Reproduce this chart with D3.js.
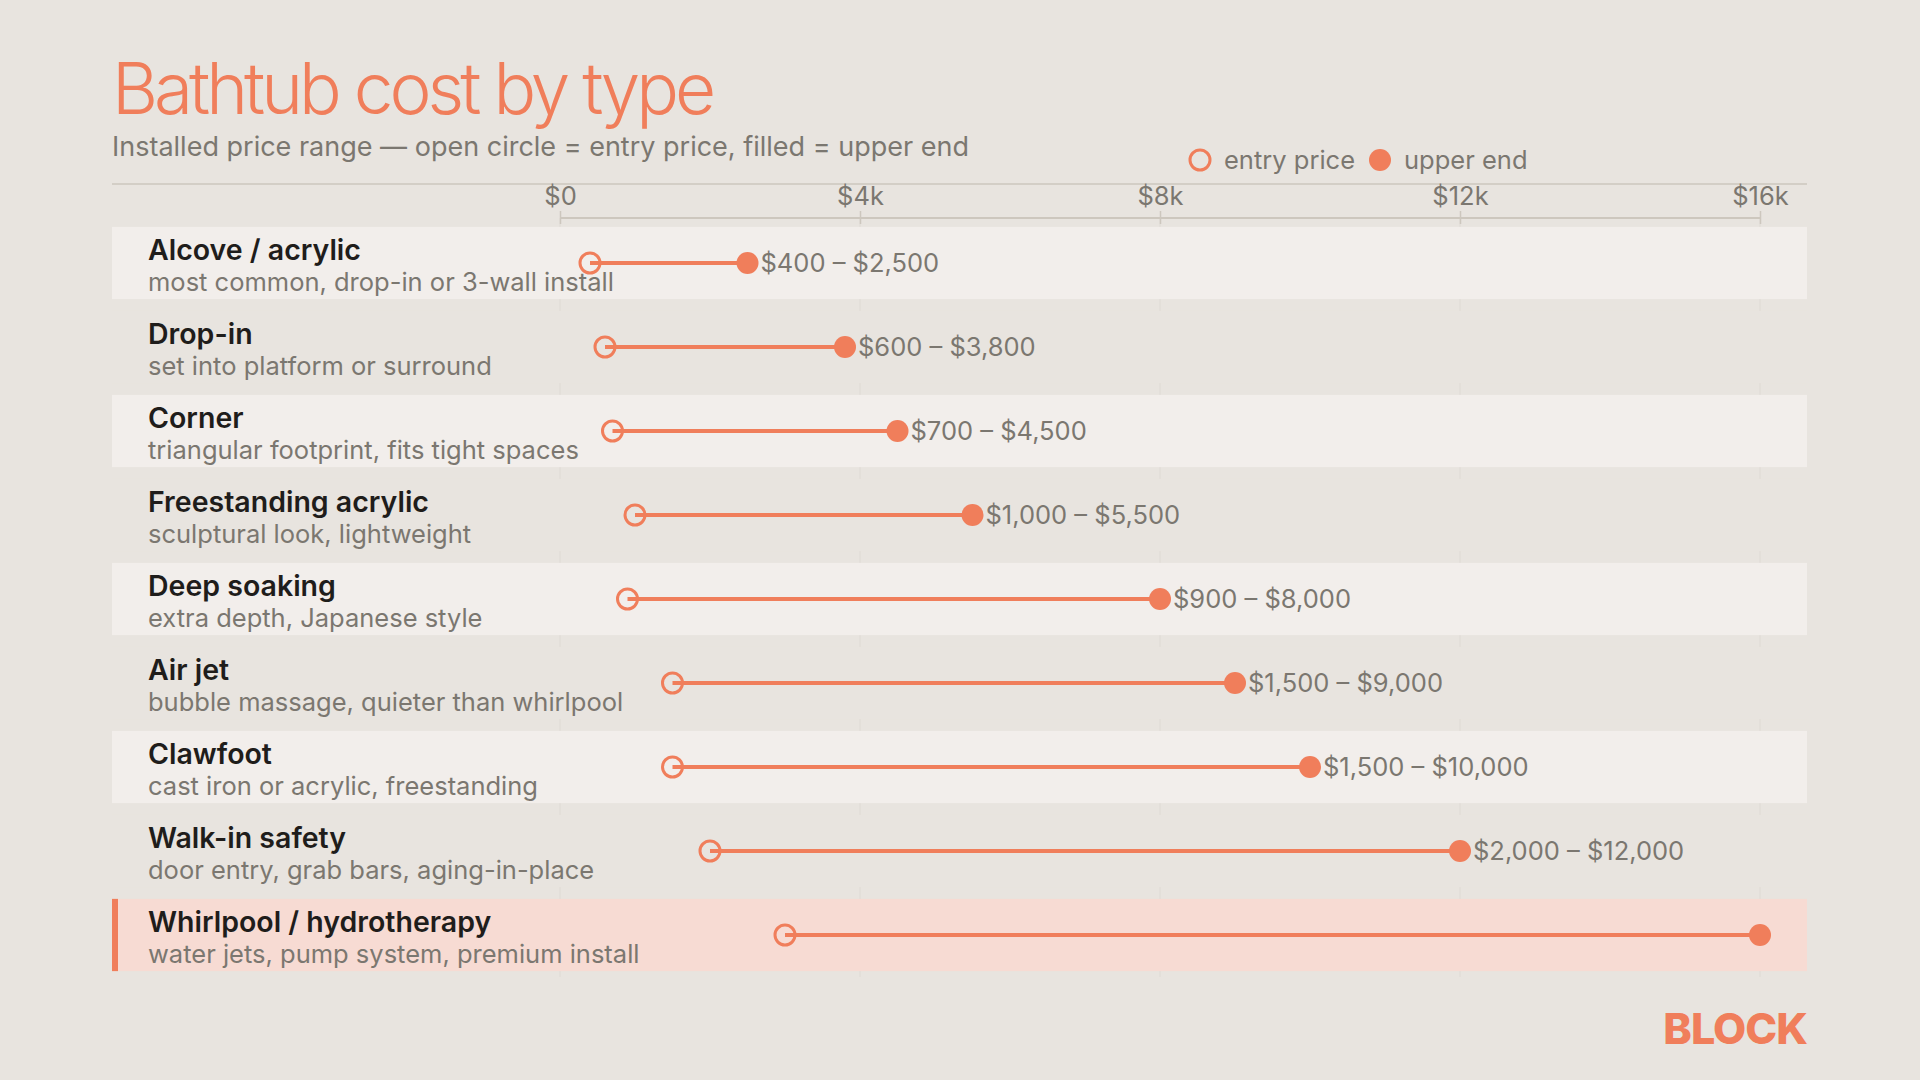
<!DOCTYPE html>
<html>
<head>
<meta charset="utf-8">
<script src="https://cdn.jsdelivr.net/npm/d3@7"></script>
<style>
  html, body { margin: 0; padding: 0; background: #e8e4df; }
  svg { display: block; font-family: Inter, "Noto Sans", sans-serif; }
</style>
</head>
<body>
<div id="chart"></div>
<script>
(function () {
  "use strict";

  // Data
  const TYPES = [
    "Alcove / acrylic", "Drop-in", "Corner", "Freestanding acrylic", "Deep soaking",
    "Air jet", "Clawfoot", "Walk-in safety", "Whirlpool / hydrotherapy"
  ];
  const NOTES = [
    "most common, drop-in or 3-wall install",
    "set into platform or surround",
    "triangular footprint, fits tight spaces",
    "sculptural look, lightweight",
    "extra depth, Japanese style",
    "bubble massage, quieter than whirlpool",
    "cast iron or acrylic, freestanding",
    "door entry, grab bars, aging-in-place",
    "water jets, pump system, premium install"
  ];
  const ENTRY_PRICE = [400, 600, 700, 1000, 900, 1500, 1500, 2000, 3000];
  const UPPER_END = [2500, 3800, 4500, 5500, 8000, 9000, 10000, 12000, 16000];
  const HIGHLIGHT = "Whirlpool / hydrotherapy";
  const TICKS = [0, 4000, 8000, 12000, 16000];
  const TICK_LABELS = ["$0", "$4k", "$8k", "$12k", "$16k"];

  const W = 1920, H = 1080;
  const LEFT = 112, RIGHT = 1807;
  const BG = "#e8e4df";
  const ACCENT = "#f07e5b";
  const GREY = "#7b7770";

  const rows = TYPES.map((t, i) => ({
    name: t, note: NOTES[i], lo: ENTRY_PRICE[i], hi: UPPER_END[i]
  }));

  const svg = d3.select("#chart").append("svg")
    .attr("width", W).attr("height", H)
    .attr("viewBox", `0 0 ${W} ${H}`);

  svg.append("rect").attr("width", W).attr("height", H).attr("fill", BG);

  const x = d3.scaleLinear().domain([0, 16000]).range([560, 1760]);
  const y = d3.scaleBand().domain(TYPES).range([221, 977]).paddingInner(0.14).paddingOuter(0.07);
  const bw = y.bandwidth();

  // Title block
  svg.append("text")
    .attr("x", LEFT).attr("y", 114)
    .attr("font-size", 71).attr("font-weight", 300)
    .attr("letter-spacing", -4)
    .attr("fill", ACCENT)
    .text("Bathtub cost by type");

  svg.append("text")
    .attr("x", LEFT).attr("y", 156)
    .attr("font-size", 27).attr("fill", GREY)
    .text("Installed price range \u2014 open circle = entry price, filled = upper end");

  // Legend
  const legend = svg.append("g").attr("transform", "translate(0,160)");
  legend.append("circle").attr("cx", 1200).attr("cy", 0).attr("r", 10)
    .attr("fill", "none").attr("stroke", ACCENT).attr("stroke-width", 3);
  legend.append("text").attr("x", 1224).attr("y", 9)
    .attr("font-size", 25.5).attr("fill", GREY).text("entry price");
  legend.append("circle").attr("cx", 1380).attr("cy", 0).attr("r", 11).attr("fill", ACCENT);
  legend.append("text").attr("x", 1404).attr("y", 9)
    .attr("font-size", 25.5).attr("fill", GREY).text("upper end");

  // Top rule
  svg.append("line")
    .attr("x1", LEFT).attr("x2", RIGHT).attr("y1", 184).attr("y2", 184)
    .attr("stroke", "#cdc7be").attr("stroke-width", 1.5);

  // Gridlines (mostly hidden behind the bands)
  svg.append("g").selectAll("line")
    .data(TICKS).enter().append("line")
    .attr("x1", d => x(d)).attr("x2", d => x(d))
    .attr("y1", 218).attr("y2", 977)
    .attr("stroke", "#dedad4").attr("stroke-width", 1);

  // Axis
  const axis = svg.append("g")
    .attr("transform", "translate(0,211)")
    .call(d3.axisTop(x).tickValues(TICKS)
      .tickFormat((d, i) => TICK_LABELS[i])
      .tickSize(-13).tickSizeOuter(0).tickPadding(6));
  axis.select(".domain").remove();
  axis.selectAll(".tick line").attr("stroke", "#cdc7be").attr("stroke-width", 1.5);
  axis.selectAll(".tick text")
    .attr("font-size", 25.5).attr("fill", GREY).attr("font-family", "Inter, sans-serif");
  svg.append("line")
    .attr("x1", x(0)).attr("x2", x(16000)).attr("y1", 218).attr("y2", 218)
    .attr("stroke", "#cdc7be").attr("stroke-width", 2);

  // Row bands
  const bands = svg.append("g");
  rows.forEach((r, i) => {
    const isHl = r.name === HIGHLIGHT;
    bands.append("rect")
      .attr("x", LEFT).attr("y", y(r.name))
      .attr("width", RIGHT - LEFT).attr("height", bw)
      .attr("fill", isHl ? "#f7dbd3" : (i % 2 === 0 ? "#f2eeeb" : BG));
    if (isHl) {
      bands.append("rect")
        .attr("x", LEFT).attr("y", y(r.name))
        .attr("width", 6).attr("height", bw)
        .attr("fill", ACCENT);
    }
  });

  // Rows
  const row = svg.append("g").selectAll("g")
    .data(rows).enter().append("g")
    .attr("transform", d => `translate(0,${y(d.name) + bw / 2})`);

  row.append("text")
    .attr("x", 148).attr("y", -3)
    .attr("font-size", 28.5).attr("font-weight", 600)
    .attr("fill", "#1f1d1b")
    .text(d => d.name);

  row.append("text")
    .attr("x", 148).attr("y", 28)
    .attr("font-size", 25.5).attr("fill", GREY)
    .text(d => d.note);

  row.append("line")
    .attr("x1", d => x(d.lo)).attr("x2", d => x(d.hi))
    .attr("stroke", ACCENT).attr("stroke-width", 4);

  row.append("circle")
    .attr("cx", d => x(d.lo)).attr("r", 10)
    .attr("fill", "none").attr("stroke", ACCENT).attr("stroke-width", 3);

  row.append("circle")
    .attr("cx", d => x(d.hi)).attr("r", 11)
    .attr("fill", ACCENT);

  // Range labels (the top one would run off the chart, so it is left out)
  const fmt = d3.format("$,");
  row.filter(d => d.hi < x.domain()[1]).append("text")
    .attr("x", d => x(d.hi) + 13).attr("y", 9)
    .attr("font-size", 25.5).attr("fill", GREY)
    .text(d => `${fmt(d.lo)} \u2013 ${fmt(d.hi)}`);

  // Brand mark
  svg.append("text")
    .attr("x", RIGHT).attr("y", 1044)
    .attr("text-anchor", "end")
    .attr("font-size", 43).attr("font-weight", 800)
    .attr("letter-spacing", -1)
    .attr("fill", ACCENT)
    .text("BLOCK");
})();
</script>
</body>
</html>
